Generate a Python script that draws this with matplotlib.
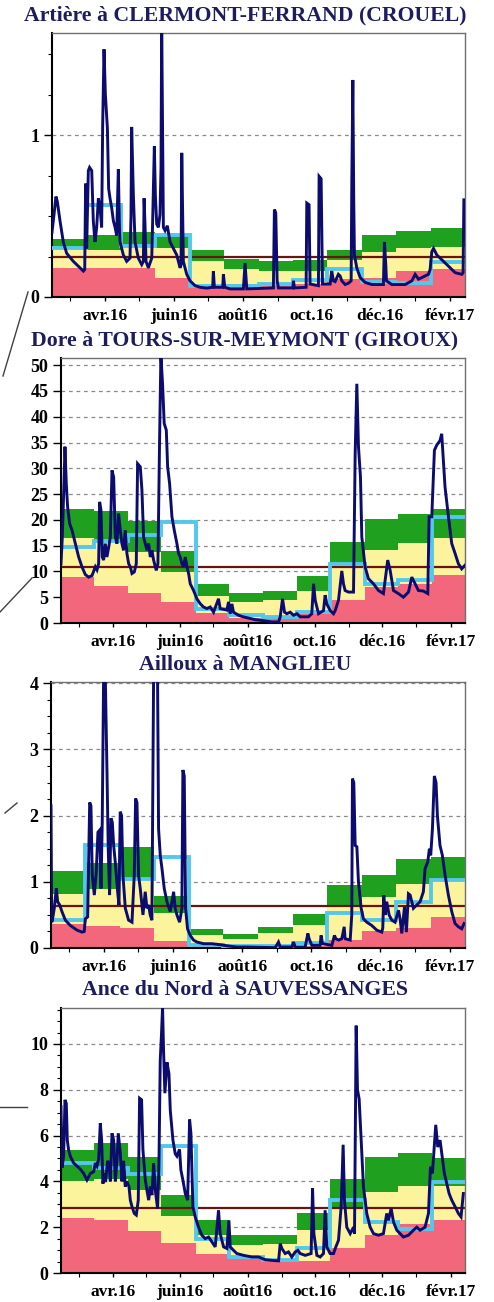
import datetime as dt
import matplotlib
matplotlib.use("Agg")
import matplotlib.pyplot as plt
import matplotlib.dates as mdates
from matplotlib.lines import Line2D
from matplotlib.ticker import FixedLocator, FixedFormatter, MultipleLocator

plt.rcParams['font.family'] = ['Liberation Serif', 'DejaVu Serif']
plt.rcParams['font.weight'] = 'bold'

# Période affichée et paliers mensuels (changement vers le 15 du mois)
debut = dt.datetime(2016, 2, 14)
fin = dt.datetime(2017, 2, 14)
paliers = ([dt.datetime(2016, 2, 14)] + [dt.datetime(2016, m, 15) for m in range(3, 13)]
           + [dt.datetime(2017, 1, 15), dt.datetime(2017, 2, 14)])
mois_labels = ["avr.16", "juin16", "août16", "oct.16", "déc.16", "févr.17"]
mois_labels_dates = [dt.datetime(2016, 4, 1), dt.datetime(2016, 6, 1), dt.datetime(2016, 8, 1),
                     dt.datetime(2016, 10, 1), dt.datetime(2016, 12, 1), dt.datetime(2017, 2, 1)]
mois_dates = [dt.datetime(2016, m, 1) for m in range(3, 13)] + [dt.datetime(2017, 1, 1), dt.datetime(2017, 2, 1)]

titres = ["Artière à CLERMONT-FERRAND (CROUEL)", "Dore à TOURS-SUR-MEYMONT (GIROUX)",
          "Ailloux à MANGLIEU", "Ance du Nord à SAUVESSANGES"]
modules = [0.245, 10.8, 0.63, 2.83]
ymax = [1.63, 51.4, 4.02, 11.57]

# seuils mensuels : rouge (haut), vert (bas / haut), courbe bleu clair
rouge1 = [0.18, 0.18, 0.18, 0.12, 0.07, 0.08, 0.07, 0.08, 0.11, 0.12, 0.16, 0.17]
vbas1 = [0.30, 0.29, 0.32, 0.30, 0.22, 0.17, 0.16, 0.16, 0.23, 0.28, 0.30, 0.31]
vhaut1 = [0.36, 0.38, 0.40, 0.39, 0.29, 0.235, 0.22, 0.23, 0.29, 0.38, 0.41, 0.425]
cyan1 = [0.30, 0.57, 0.315, 0.38, 0.07, 0.065, 0.08, 0.105, 0.17, 0.09, 0.085, 0.215]

rouge2 = [8.9, 7.2, 5.9, 4.1, 2.0, 1.0, 1.2, 1.8, 4.4, 6.9, 7.6, 9.4]
vbas2 = [16.4, 16.0, 13.7, 9.8, 5.3, 4.0, 4.4, 6.3, 11.5, 14.2, 15.5, 16.4]
vhaut2 = [22.2, 21.8, 19.8, 14.0, 7.5, 5.8, 6.3, 9.2, 15.7, 20.1, 21.1, 22.2]
cyan2 = [14.7, 15.9, 17.1, 19.6, 2.75, 1.6, 1.25, 2.2, 11.4, 7.5, 8.3, 20.5]

rouge3 = [0.36, 0.33, 0.30, 0.10, 0.03, 0.02, 0.02, 0.03, 0.12, 0.26, 0.30, 0.47]
vbas3 = [0.82, 0.89, 1.04, 0.53, 0.20, 0.14, 0.22, 0.35, 0.62, 0.77, 0.97, 1.03]
vhaut3 = [1.17, 1.29, 1.52, 0.78, 0.28, 0.21, 0.31, 0.51, 0.95, 1.11, 1.34, 1.38]
cyan3 = [0.42, 1.55, 1.04, 1.38, 0.05, 0.03, 0.03, 0.08, 0.53, 0.42, 0.70, 1.03]

rouge4 = [2.4, 2.3, 1.85, 1.3, 0.85, 0.7, 0.55, 0.51, 1.07, 1.68, 2.16, 2.3]
vbas4 = [4.0, 4.1, 3.63, 2.48, 1.65, 1.22, 1.26, 1.87, 2.8, 3.55, 3.82, 3.8]
vhaut4 = [5.37, 5.66, 5.08, 3.4, 2.3, 1.65, 1.67, 2.64, 4.1, 5.08, 5.23, 5.0]
cyan4 = [4.8, 4.6, 4.33, 5.55, 1.5, 0.7, 0.55, 1.1, 3.18, 2.23, 1.94, 3.99]

# débits journaliers (jours depuis le 14/02/2016, m3/s)
jours1 = [0, 1.8, 3.5, 4.7, 7.1, 10.0, 13.0, 18.9, 24.8, 27.8, 29.0, 29.8, 30.7, 32.2, 33.3, 35.2,
          36.6, 38.1, 39.6, 41.1, 42.6, 44.0, 44.9, 46.1, 47.3, 49.1, 50.2, 51.4, 52.9, 54.4, 55.9,
          57.3, 58.8, 59.7, 60.3, 63.2, 66.2, 69.1, 70.0, 70.6, 72.1, 73.6, 76.5, 79.5, 81.0, 81.6,
          82.4, 83.3, 85.4, 88.4, 89.2, 90.7, 91.6, 92.8, 94.3, 95.7, 96.6, 97.2, 98.1, 98.7, 100.2,
          102.2, 104.6, 107.6, 110.5, 113.5, 114.4, 115.0, 115.8, 116.4, 119.4, 122.3, 126.8, 131.2,
          137.1, 142.4, 143.0, 143.9, 151.3, 151.9, 153.1, 157.8, 169.6, 171.1, 172.6, 196.2, 197.1,
          198.3, 199.5, 200.7, 213.4, 214.0, 214.8, 225.2, 225.8, 227.8, 228.7, 236.1, 236.7, 238.5,
          239.7, 246.5, 247.9, 249.4, 250.9, 253.8, 255.3, 256.8, 259.8, 262.7, 265.1, 265.7, 266.6,
          267.4, 268.0, 270.1, 273.1, 277.5, 283.4, 293.7, 294.6, 295.8, 296.4, 301.1, 313.0, 318.9,
          321.8, 324.8, 330.7, 333.6, 335.1, 336.6, 338.1, 341.0, 345.5, 351.4, 357.3, 363.2, 364.3,
          365.0]
debits1 = [0.40, 0.51, 0.62, 0.59, 0.47, 0.34, 0.27, 0.22, 0.18, 0.16, 0.17, 0.70, 0.30, 0.78, 0.80,
           0.78, 0.47, 0.34, 0.43, 0.61, 0.55, 0.43, 1.06, 1.53, 1.25, 1.04, 0.67, 0.61, 0.55, 0.47,
           0.43, 0.38, 0.79, 0.45, 0.34, 0.26, 0.22, 0.24, 0.50, 1.05, 0.63, 0.34, 0.24, 0.20, 0.22,
           0.61, 0.45, 0.22, 0.18, 0.24, 0.47, 0.93, 0.63, 0.45, 0.43, 0.51, 0.80, 1.70, 0.90, 0.43,
           0.41, 0.44, 0.34, 0.30, 0.26, 0.18, 0.20, 0.89, 0.50, 0.22, 0.14, 0.10, 0.07, 0.06, 0.055,
           0.06, 0.16, 0.06, 0.06, 0.14, 0.06, 0.05, 0.05, 0.21, 0.05, 0.056, 0.54, 0.52, 0.10, 0.056,
           0.056, 0.10, 0.056, 0.06, 0.58, 0.57, 0.08, 0.07, 0.745, 0.73, 0.08, 0.08, 0.16, 0.10,
           0.095, 0.14, 0.13, 0.10, 0.077, 0.085, 0.10, 0.72, 1.34, 0.60, 0.26, 0.18, 0.12, 0.09,
           0.077, 0.077, 0.34, 0.20, 0.10, 0.077, 0.077, 0.10, 0.14, 0.11, 0.13, 0.14, 0.17, 0.28,
           0.30, 0.26, 0.23, 0.19, 0.15, 0.14, 0.15, 0.60]

jours2 = [0, 1.2, 2.4, 3.6, 4.8, 6.0, 7.8, 10.0, 13.0, 16.0, 19.0, 22.0, 25.0, 28.1, 31.1, 32.6,
          34.1, 35.0, 36.2, 37.4, 38.6, 40.1, 41.6, 43.2, 44.7, 46.2, 47.7, 49.2, 50.7, 52.2, 53.7,
          55.2, 56.7, 58.2, 59.7, 61.3, 62.8, 64.3, 66.4, 68.2, 69.4, 71.8, 73.3, 74.8, 76.3, 77.9,
          79.4, 80.9, 82.4, 83.9, 86.3, 87.8, 89.3, 90.5, 92.0, 93.5, 95.4, 96.6, 98.4, 100.5, 102.6,
          105.0, 106.5, 108.0, 109.5, 111.0, 112.6, 114.1, 115.6, 117.1, 120.1, 123.1, 126.1, 129.1,
          132.2, 135.2, 138.2, 142.7, 144.2, 150.3, 151.8, 153.3, 154.8, 156.3, 160.8, 165.0, 175.9,
          185.0, 191.0, 197.1, 198.6, 200.7, 202.5, 204.6, 207.6, 210.7, 213.7, 216.7, 224.2, 227.2,
          228.8, 230.3, 233.3, 237.8, 239.3, 240.8, 243.9, 246.9, 248.4, 251.4, 254.4, 255.9, 257.4,
          260.4, 265.0, 266.5, 268.0, 269.5, 271.3, 272.5, 275.5, 278.5, 283.1, 287.6, 292.1, 296.0,
          298.2, 301.2, 305.7, 310.2, 314.8, 317.8, 320.8, 323.8, 328.3, 332.3, 333.5, 335.9, 338.3,
          340.4, 343.4, 344.9, 346.4, 347.9, 351.0, 354.0, 357.0, 360.0, 363.0, 366.0]
debits2 = [11.5, 16.7, 25.0, 34.2, 27.0, 22.5, 19.3, 18.0, 15.4, 12.8, 10.9, 9.4, 8.9, 9.2, 10.9,
           10.3, 11.5, 23.5, 21.9, 12.8, 12.2, 15.4, 12.8, 14.7, 16.7, 29.6, 28.3, 16.7, 15.4, 21.2,
           18.0, 15.4, 14.1, 18.0, 13.5, 11.5, 10.9, 9.6, 9.9, 11.5, 30.9, 30.3, 25.9, 16.7, 15.4,
           14.1, 15.4, 12.8, 14.1, 12.2, 10.2, 11.5, 35.4, 52.0, 46.4, 38.7, 37.4, 30.3, 27.0, 20.6,
           18.0, 15.4, 13.5, 12.8, 11.5, 10.9, 12.8, 10.9, 9.6, 7.6, 6.3, 4.7, 3.75, 3.1, 2.8, 3.1,
           2.1, 4.7, 2.8, 2.5, 4.1, 1.8, 3.7, 2.1, 1.5, 1.2, 0.65, 0.4, 0.2, 0.2, 1.2, 4.7, 2.1, 1.8,
           2.1, 1.5, 1.8, 1.2, 1.2, 1.8, 7.6, 4.4, 1.8, 2.4, 5.4, 3.7, 2.4, 1.8, 2.4, 4.4, 10.1, 7.6,
           6.3, 6.0, 6.0, 32.9, 46.4, 34.2, 28.3, 16.7, 10.9, 8.6, 7.6, 6.3, 5.7, 12.2, 10.2, 6.3,
           5.7, 5.0, 6.0, 8.9, 7.6, 6.3, 6.2, 5.7, 20.6, 20.6, 33.5, 34.5, 35.4, 36.7, 31.5, 26.4,
           20.6, 15.4, 13.5, 11.5, 10.5, 11.2]

jours3 = [0, 0.6, 1.2, 2.9, 4.7, 5.9, 7.7, 9.7, 12.7, 17.1, 23.0, 27.4, 29.4, 30.3, 32.4, 34.2, 35.3,
          36.5, 38.3, 40.0, 41.5, 43.0, 44.2, 45.3, 46.5, 48.0, 49.5, 50.6, 51.8, 53.0, 54.2, 55.4,
          56.8, 58.9, 60.1, 61.2, 62.4, 63.6, 65.7, 68.6, 71.6, 73.6, 74.8, 76.0, 77.4, 78.9, 81.3,
          83.3, 84.8, 86.3, 87.7, 89.2, 90.7, 92.5, 94.2, 95.1, 96.6, 98.1, 100.1, 102.5, 105.4,
          108.4, 109.8, 111.3, 113.7, 115.7, 116.6, 117.8, 119.0, 120.7, 123.1, 126.0, 129.0, 134.9,
          142.2, 149.6, 156.9, 164.3, 173.1, 186.4, 198.2, 201.1, 202.6, 212.9, 214.4, 215.9, 224.7,
          227.1, 228.2, 230.6, 237.9, 238.8, 240.0, 248.3, 250.6, 251.8, 254.2, 257.1, 259.2, 260.0,
          264.5, 265.9, 266.5, 267.7, 268.9, 270.4, 271.8, 274.2, 276.2, 279.2, 283.6, 288.0, 292.4,
          293.3, 294.2, 295.4, 296.8, 298.9, 301.3, 304.2, 307.2, 308.6, 310.1, 312.5, 314.2, 316.0,
          317.5, 320.4, 323.4, 326.3, 329.2, 330.7, 333.1, 334.5, 335.7, 337.2, 338.9, 340.4, 341.6,
          343.9, 346.0, 348.4, 351.3, 354.3, 357.2, 360.2, 363.1, 365.2]
debits3 = [2.15, 0.39, 0.42, 0.6, 0.9, 0.7, 0.65, 0.55, 0.42, 0.34, 0.27, 0.24, 0.25, 0.44, 0.47,
           2.2, 2.15, 1.1, 0.8, 1.15, 1.75, 1.78, 0.9, 1.9, 4.1, 4.1, 2.66, 1.5, 0.8, 1.96, 1.9, 1.55,
           1.3, 0.85, 0.65, 2.06, 2.0, 1.1, 0.6, 0.42, 0.39, 1.1, 2.26, 2.2, 1.1, 0.9, 0.5, 0.85, 0.6,
           0.65, 0.5, 0.42, 4.1, 4.1, 4.1, 1.8, 1.4, 1.2, 0.9, 0.7, 0.55, 0.85, 0.6, 0.5, 0.39, 0.6,
           2.69, 2.6, 0.6, 0.29, 0.19, 0.12, 0.09, 0.065, 0.065, 0.05, 0.03, 0.015, 0.015, 0.01,
           0.005, 0.09, 0.015, 0.015, 0.09, 0.015, 0.015, 0.22, 0.14, 0.04, 0.04, 0.19, 0.065, 0.04,
           0.19, 0.14, 0.12, 0.14, 0.32, 0.14, 0.12, 0.5, 2.56, 2.5, 1.55, 1.53, 1.0, 0.6, 0.44, 0.39,
           0.34, 0.27, 0.24, 0.3, 0.8, 0.5, 0.7, 0.5, 0.42, 0.39, 0.57, 0.44, 0.22, 0.62, 0.24, 0.82,
           0.8, 0.6, 0.65, 0.7, 0.85, 1.2, 1.3, 1.5, 1.4, 1.8, 2.6, 2.5, 2.0, 1.55, 1.4, 1.1, 0.8,
           0.55, 0.37, 0.32, 0.29, 0.37]

jours4 = [0, 0.9, 2.4, 3.6, 4.8, 5.7, 6.9, 8.4, 11.5, 14.5, 17.5, 20.5, 23.5, 26.6, 29.6, 31.1, 32.6,
          34.1, 35.6, 36.8, 38.0, 39.2, 40.4, 42.2, 43.5, 44.7, 46.2, 47.7, 49.2, 50.7, 51.9, 53.7,
          55.2, 56.7, 58.2, 59.7, 61.6, 62.8, 64.3, 66.4, 68.2, 70.0, 71.2, 73.0, 74.2, 76.3, 77.9,
          79.4, 80.9, 82.4, 83.9, 85.7, 87.5, 88.7, 89.9, 91.1, 92.0, 92.9, 94.1, 96.0, 97.8, 99.0,
          101.4, 103.5, 105.0, 107.4, 108.6, 110.4, 112.6, 114.7, 116.5, 117.7, 119.5, 121.6, 124.6,
          127.6, 130.7, 133.7, 136.7, 139.7, 142.7, 144.2, 147.3, 150.3, 152.1, 153.3, 156.3, 159.3,
          165.4, 172.9, 179.0, 185.0, 191.0, 197.1, 198.6, 200.1, 203.1, 206.1, 209.1, 212.2, 214.6,
          216.7, 221.2, 226.6, 227.9, 229.1, 231.8, 234.8, 237.8, 239.3, 240.8, 243.8, 246.9, 249.0,
          251.4, 253.8, 255.6, 256.8, 258.9, 262.0, 265.0, 265.9, 267.4, 268.6, 270.1, 271.9, 274.0,
          277.0, 280.1, 283.1, 287.6, 292.1, 295.1, 296.7, 299.1, 301.2, 304.2, 307.2, 310.2, 314.8,
          319.3, 322.3, 325.3, 329.8, 332.9, 334.7, 336.5, 339.5, 341.3, 343.4, 344.9, 347.3, 349.5,
          351.6, 354.0, 357.0, 360.0, 362.4, 364.5]
debits4 = [7.27, 4.6, 5.1, 7.56, 7.4, 5.8, 5.37, 5.1, 4.8, 4.67, 4.53, 4.35, 4.06, 4.35, 4.42, 4.8,
           4.67, 4.96, 6.54, 5.8, 3.9, 4.35, 3.97, 4.9, 4.75, 4.0, 6.1, 5.8, 4.0, 4.9, 6.1, 5.25, 4.0,
           4.9, 3.77, 4.0, 3.77, 3.18, 2.9, 2.6, 2.53, 3.18, 7.63, 7.56, 5.4, 4.1, 3.6, 3.18, 3.77,
           3.4, 4.8, 3.5, 2.82, 4.6, 9.3, 10.5, 11.6, 9.75, 7.85, 9.2, 8.7, 7.1, 5.8, 5.2, 5.1, 5.4,
           4.5, 4.06, 3.47, 3.18, 6.7, 6.1, 2.9, 2.45, 2.0, 1.65, 1.5, 1.57, 1.36, 1.14, 2.74, 1.72,
           1.14, 1.07, 2.3, 1.14, 0.99, 0.85, 0.77, 0.7, 0.7, 0.58, 0.55, 0.53, 1.28, 1.07, 0.85, 0.92,
           0.7, 0.92, 0.99, 0.85, 0.77, 0.85, 3.7, 1.72, 0.77, 0.7, 0.85, 2.74, 1.14, 0.85, 0.85, 1.14,
           1.43, 2.9, 5.6, 3.18, 2.0, 1.72, 2.0, 1.72, 10.8, 8.0, 7.6, 5.8, 3.77, 2.6, 2.0, 1.72, 1.65,
           1.72, 2.6, 2.3, 2.82, 2.23, 1.87, 1.72, 1.57, 1.65, 1.87, 2.0, 1.87, 2.0, 2.6, 4.64, 4.35,
           6.47, 5.5, 5.8, 5.25, 4.35, 3.9, 3.47, 3.18, 2.9, 2.6, 2.45, 3.47]

stations = [
    (rouge1, vbas1, vhaut1, cyan1, jours1, debits1),
    (rouge2, vbas2, vhaut2, cyan2, jours2, debits2),
    (rouge3, vbas3, vhaut3, cyan3, jours3, debits3),
    (rouge4, vbas4, vhaut4, cyan4, jours4, debits4),
]
graduations = [(1, 0.25), (5, None), (1, 0.25), (2, 0.5)]

# position des cadres en pixels (gauche, haut, bas) ; droite commune à 465
cadres = [(52, 33, 297), (61, 358, 623), (51, 682, 948), (61, 1008, 1273)]
titre_y = [15, 340, 665, 990]

W, H = 494, 1302
fig = plt.figure(figsize=(W / 100, H / 100), dpi=100)

x_paliers = mdates.date2num(paliers)

for i, (rouge, vbas, vhaut, cyan, jours, debits) in enumerate(stations):
    g, t, b = cadres[i]
    ax = fig.add_axes([g / W, 1 - b / H, (465 - g) / W, (b - t) / H])
    ax.stairs(rouge, x_paliers, baseline=0, fill=True, color='#f2677b', lw=0, zorder=1)
    ax.stairs(vbas, x_paliers, baseline=rouge, fill=True, color='#fbf49c', lw=0, zorder=1)
    ax.stairs(vhaut, x_paliers, baseline=vbas, fill=True, color='#1fa11f', lw=0, zorder=1)
    ax.axhline(modules[i], color='#6a1410', lw=1.6, zorder=2)
    ax.stairs(cyan, x_paliers, baseline=None, color='#55c8ea', lw=2.8, zorder=3)
    x_debit = mdates.date2num([debut + dt.timedelta(days=j) for j in jours])
    ax.plot(x_debit, debits, color='#0c0c6e', lw=2.1, zorder=4, solid_joinstyle='miter')

    ax.set_xlim(mdates.date2num(debut), mdates.date2num(fin))
    ax.set_ylim(0, ymax[i])

    maj, mini = graduations[i]
    ax.yaxis.set_major_locator(MultipleLocator(maj))
    if mini:
        ax.yaxis.set_minor_locator(MultipleLocator(mini))
    if i == 0:
        ax.yaxis.set_major_formatter(plt.FuncFormatter(lambda v, p: '%g' % v))
    ax.xaxis.set_major_locator(FixedLocator(mdates.date2num(mois_labels_dates)))
    ax.xaxis.set_major_formatter(FixedFormatter(mois_labels))
    ax.xaxis.set_minor_locator(FixedLocator(mdates.date2num(mois_dates)))

    ax.set_axisbelow(True)
    ax.yaxis.grid(True, which='major', color='#8a8a8a', lw=0.9, ls=(0, (3, 3)))
    ax.tick_params(axis='y', which='major', length=6, width=1, pad=3, labelsize=13)
    ax.tick_params(axis='y', which='minor', length=3, width=0.8)
    ax.tick_params(axis='x', which='major', length=3, width=1, pad=5, labelsize=12.5)
    ax.tick_params(axis='x', which='minor', length=3, width=0.8)
    for s in ('top', 'right'):
        ax.spines[s].set_color('#707070')
        ax.spines[s].set_linewidth(1.0)
    for s in ('left', 'bottom'):
        ax.spines[s].set_color('black')
        ax.spines[s].set_linewidth(1.5)

    fig.text(245 / W, 1 - titre_y[i] / H, titres[i], ha='center', va='center',
             fontsize=15.7, fontweight='bold', color='#1c1c5e')

# traits de liaison vers la carte (restes de l'image d'origine)
traits = [((28, 3), (292, 376)), ((0, 32), (612, 578)), ((5, 17), (813, 803)), ((0, 27), (1107, 1107))]
for xs, ys in traits:
    fig.add_artist(Line2D([x / W for x in xs], [1 - y / H for y in ys], color='#404040', lw=1))

fig.savefig("out.png", dpi=100)
